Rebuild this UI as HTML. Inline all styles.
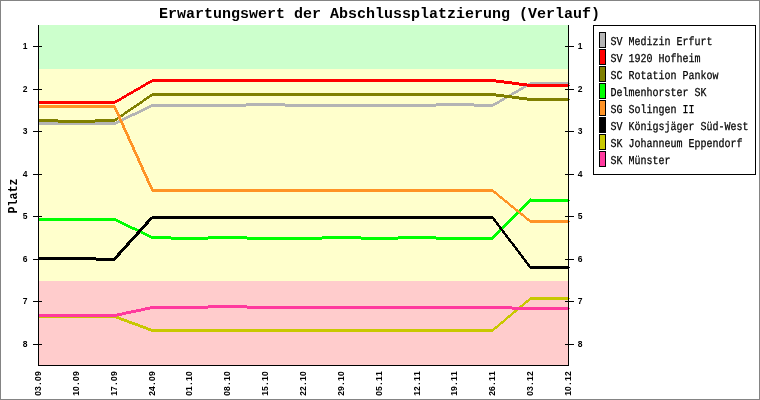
<!DOCTYPE html>
<html lang="de"><head><meta charset="utf-8"><title>Erwartungswert der Abschlussplatzierung (Verlauf)</title>
<style>html,body{margin:0;padding:0;background:#fff}svg{display:block}text{font-family:"Liberation Mono","DejaVu Sans Mono",monospace;fill:#000}.t{font-size:15px;font-weight:bold}.l{font-size:12px;text-rendering:geometricPrecision;stroke:#000;stroke-width:.25px}.a{font-family:"Liberation Sans","DejaVu Sans",sans-serif;font-size:8.5px;font-weight:bold;text-anchor:middle}.y{font-size:13.5px;font-weight:bold}</style></head><body>
<svg width="760" height="400" viewBox="0 0 760 400">
<rect x="0" y="0" width="760" height="400" fill="#fff"/>
<rect x="0.5" y="0.5" width="759" height="399" fill="none" stroke="#848484" shape-rendering="crispEdges"/>
<g shape-rendering="crispEdges">
<rect x="38" y="25" width="531" height="44" fill="#ccffcc"/>
<rect x="38" y="69" width="531" height="212" fill="#ffffcc"/>
<rect x="38" y="281" width="531" height="84" fill="#ffcccc"/>
<polygon fill="#b4b4b4" points="38.00,122.00 77.00,122.00 77.00,125.00 38.00,125.00"/>
<polygon fill="#b4b4b4" points="76.00,122.00 115.00,122.00 115.00,125.00 76.00,125.00"/>
<polygon fill="#b4b4b4" points="114.00,122.24 153.00,103.76 153.00,106.76 114.00,125.24"/>
<polygon fill="#b4b4b4" points="152.00,104.00 190.00,104.00 190.00,107.00 152.00,107.00"/>
<polygon fill="#b4b4b4" points="189.00,104.00 228.00,104.00 228.00,107.00 189.00,107.00"/>
<polygon fill="#b4b4b4" points="227.00,104.01 266.00,102.99 266.00,105.99 227.00,107.01"/>
<polygon fill="#b4b4b4" points="265.00,102.99 304.00,104.01 304.00,107.01 265.00,105.99"/>
<polygon fill="#b4b4b4" points="303.00,104.00 342.00,104.00 342.00,107.00 303.00,107.00"/>
<polygon fill="#b4b4b4" points="341.00,104.00 380.00,104.00 380.00,107.00 341.00,107.00"/>
<polygon fill="#b4b4b4" points="379.00,104.00 418.00,104.00 418.00,107.00 379.00,107.00"/>
<polygon fill="#b4b4b4" points="417.00,104.01 455.00,102.99 455.00,105.99 417.00,107.01"/>
<polygon fill="#b4b4b4" points="454.00,102.99 493.00,104.01 493.00,107.01 454.00,105.99"/>
<polygon fill="#b4b4b4" points="492.00,104.29 531.00,81.71 531.00,84.71 492.00,107.29"/>
<polygon fill="#b4b4b4" points="530.00,82.00 569.00,82.00 569.00,85.00 530.00,85.00"/>
<rect x="569" y="83" width="1" height="1" fill="#b4b4b4"/>
<polygon fill="#ff0000" points="38.00,101.00 77.00,101.00 77.00,104.00 38.00,104.00"/>
<polygon fill="#ff0000" points="76.00,101.00 115.00,101.00 115.00,104.00 76.00,104.00"/>
<polygon fill="#ff0000" points="114.00,101.29 153.00,78.71 153.00,81.71 114.00,104.29"/>
<polygon fill="#ff0000" points="152.00,79.00 190.00,79.00 190.00,82.00 152.00,82.00"/>
<polygon fill="#ff0000" points="189.00,79.00 228.00,79.00 228.00,82.00 189.00,82.00"/>
<polygon fill="#ff0000" points="227.00,79.00 266.00,79.00 266.00,82.00 227.00,82.00"/>
<polygon fill="#ff0000" points="265.00,79.00 304.00,79.00 304.00,82.00 265.00,82.00"/>
<polygon fill="#ff0000" points="303.00,79.00 342.00,79.00 342.00,82.00 303.00,82.00"/>
<polygon fill="#ff0000" points="341.00,79.00 380.00,79.00 380.00,82.00 341.00,82.00"/>
<polygon fill="#ff0000" points="379.00,79.00 418.00,79.00 418.00,82.00 379.00,82.00"/>
<polygon fill="#ff0000" points="417.00,79.00 455.00,79.00 455.00,82.00 417.00,82.00"/>
<polygon fill="#ff0000" points="454.00,79.00 493.00,79.00 493.00,82.00 454.00,82.00"/>
<polygon fill="#ff0000" points="492.00,78.93 531.00,84.07 531.00,87.07 492.00,81.93"/>
<polygon fill="#ff0000" points="530.00,84.00 569.00,84.00 569.00,87.00 530.00,87.00"/>
<rect x="569" y="85" width="1" height="1" fill="#ff0000"/>
<polygon fill="#808000" points="38.00,118.99 77.00,120.01 77.00,123.01 38.00,121.99"/>
<polygon fill="#808000" points="76.00,120.01 115.00,118.99 115.00,121.99 76.00,123.01"/>
<polygon fill="#808000" points="114.00,119.34 153.00,92.66 153.00,95.66 114.00,122.34"/>
<polygon fill="#808000" points="152.00,93.00 190.00,93.00 190.00,96.00 152.00,96.00"/>
<polygon fill="#808000" points="189.00,93.00 228.00,93.00 228.00,96.00 189.00,96.00"/>
<polygon fill="#808000" points="227.00,93.00 266.00,93.00 266.00,96.00 227.00,96.00"/>
<polygon fill="#808000" points="265.00,93.00 304.00,93.00 304.00,96.00 265.00,96.00"/>
<polygon fill="#808000" points="303.00,93.00 342.00,93.00 342.00,96.00 303.00,96.00"/>
<polygon fill="#808000" points="341.00,93.00 380.00,93.00 380.00,96.00 341.00,96.00"/>
<polygon fill="#808000" points="379.00,93.00 418.00,93.00 418.00,96.00 379.00,96.00"/>
<polygon fill="#808000" points="417.00,93.00 455.00,93.00 455.00,96.00 417.00,96.00"/>
<polygon fill="#808000" points="454.00,93.00 493.00,93.00 493.00,96.00 454.00,96.00"/>
<polygon fill="#808000" points="492.00,92.93 531.00,98.07 531.00,101.07 492.00,95.93"/>
<polygon fill="#808000" points="530.00,98.00 569.00,98.00 569.00,101.00 530.00,101.00"/>
<rect x="569" y="99" width="1" height="1" fill="#808000"/>
<polygon fill="#00ff00" points="38.00,218.00 77.00,218.00 77.00,221.00 38.00,221.00"/>
<polygon fill="#00ff00" points="76.00,218.00 115.00,218.00 115.00,221.00 76.00,221.00"/>
<polygon fill="#00ff00" points="114.00,217.76 153.00,236.24 153.00,239.24 114.00,220.76"/>
<polygon fill="#00ff00" points="152.00,235.99 190.00,237.01 190.00,240.01 152.00,238.99"/>
<polygon fill="#00ff00" points="189.00,237.01 228.00,235.99 228.00,238.99 189.00,240.01"/>
<polygon fill="#00ff00" points="227.00,235.99 266.00,237.01 266.00,240.01 227.00,238.99"/>
<polygon fill="#00ff00" points="265.00,237.00 304.00,237.00 304.00,240.00 265.00,240.00"/>
<polygon fill="#00ff00" points="303.00,237.01 342.00,235.99 342.00,238.99 303.00,240.01"/>
<polygon fill="#00ff00" points="341.00,235.99 380.00,237.01 380.00,240.01 341.00,238.99"/>
<polygon fill="#00ff00" points="379.00,237.01 418.00,235.99 418.00,238.99 379.00,240.01"/>
<polygon fill="#00ff00" points="417.00,235.99 455.00,237.01 455.00,240.01 417.00,238.99"/>
<polygon fill="#00ff00" points="454.00,237.00 493.00,237.00 493.00,240.00 454.00,240.00"/>
<polygon fill="#00ff00" points="492.00,236.50 531.00,197.50 531.00,201.50 492.00,240.50"/>
<polygon fill="#00ff00" points="530.00,199.00 569.00,199.00 569.00,202.00 530.00,202.00"/>
<rect x="569" y="200" width="1" height="1" fill="#00ff00"/>
<polygon fill="#ff9326" points="38.00,105.00 77.00,105.00 77.00,108.00 38.00,108.00"/>
<polygon fill="#ff9326" points="76.00,105.00 115.00,105.00 115.00,108.00 76.00,108.00"/>
<polygon fill="#ff9326" points="112.77,106.00 115.77,106.00 154.23,191.00 151.23,191.00"/>
<polygon fill="#ff9326" points="152.00,189.00 190.00,189.00 190.00,192.00 152.00,192.00"/>
<polygon fill="#ff9326" points="189.00,189.00 228.00,189.00 228.00,192.00 189.00,192.00"/>
<polygon fill="#ff9326" points="227.00,189.00 266.00,189.00 266.00,192.00 227.00,192.00"/>
<polygon fill="#ff9326" points="265.00,189.00 304.00,189.00 304.00,192.00 265.00,192.00"/>
<polygon fill="#ff9326" points="303.00,189.00 342.00,189.00 342.00,192.00 303.00,192.00"/>
<polygon fill="#ff9326" points="341.00,189.00 380.00,189.00 380.00,192.00 341.00,192.00"/>
<polygon fill="#ff9326" points="379.00,189.00 418.00,189.00 418.00,192.00 379.00,192.00"/>
<polygon fill="#ff9326" points="417.00,189.00 455.00,189.00 455.00,192.00 417.00,192.00"/>
<polygon fill="#ff9326" points="454.00,189.00 493.00,189.00 493.00,192.00 454.00,192.00"/>
<polygon fill="#ff9326" points="492.00,188.59 531.00,220.41 531.00,223.41 492.00,191.59"/>
<polygon fill="#ff9326" points="530.00,220.00 569.00,220.00 569.00,223.00 530.00,223.00"/>
<rect x="569" y="221" width="1" height="1" fill="#ff9326"/>
<polygon fill="#000000" points="38.00,257.00 77.00,257.00 77.00,260.00 38.00,260.00"/>
<polygon fill="#000000" points="76.00,256.99 115.00,258.01 115.00,261.01 76.00,259.99"/>
<polygon fill="#000000" points="111.55,260.00 115.55,260.00 154.45,217.00 150.45,217.00"/>
<polygon fill="#000000" points="152.00,216.00 190.00,216.00 190.00,219.00 152.00,219.00"/>
<polygon fill="#000000" points="189.00,216.00 228.00,216.00 228.00,219.00 189.00,219.00"/>
<polygon fill="#000000" points="227.00,216.00 266.00,216.00 266.00,219.00 227.00,219.00"/>
<polygon fill="#000000" points="265.00,216.00 304.00,216.00 304.00,219.00 265.00,219.00"/>
<polygon fill="#000000" points="303.00,216.00 342.00,216.00 342.00,219.00 303.00,219.00"/>
<polygon fill="#000000" points="341.00,216.00 380.00,216.00 380.00,219.00 341.00,219.00"/>
<polygon fill="#000000" points="379.00,216.00 418.00,216.00 418.00,219.00 379.00,219.00"/>
<polygon fill="#000000" points="417.00,216.00 455.00,216.00 455.00,219.00 417.00,219.00"/>
<polygon fill="#000000" points="454.00,216.00 493.00,216.00 493.00,219.00 454.00,219.00"/>
<polygon fill="#000000" points="490.62,217.00 493.62,217.00 532.38,268.00 529.38,268.00"/>
<polygon fill="#000000" points="530.00,266.00 569.00,266.00 569.00,269.00 530.00,269.00"/>
<rect x="569" y="267" width="1" height="1" fill="#000000"/>
<polygon fill="#c8c800" points="38.00,315.00 77.00,315.00 77.00,318.00 38.00,318.00"/>
<polygon fill="#c8c800" points="76.00,315.00 115.00,315.00 115.00,318.00 76.00,318.00"/>
<polygon fill="#c8c800" points="114.00,314.82 153.00,329.18 153.00,332.18 114.00,317.82"/>
<polygon fill="#c8c800" points="152.00,329.00 190.00,329.00 190.00,332.00 152.00,332.00"/>
<polygon fill="#c8c800" points="189.00,329.00 228.00,329.00 228.00,332.00 189.00,332.00"/>
<polygon fill="#c8c800" points="227.00,329.00 266.00,329.00 266.00,332.00 227.00,332.00"/>
<polygon fill="#c8c800" points="265.00,329.00 304.00,329.00 304.00,332.00 265.00,332.00"/>
<polygon fill="#c8c800" points="303.00,329.00 342.00,329.00 342.00,332.00 303.00,332.00"/>
<polygon fill="#c8c800" points="341.00,329.00 380.00,329.00 380.00,332.00 341.00,332.00"/>
<polygon fill="#c8c800" points="379.00,329.00 418.00,329.00 418.00,332.00 379.00,332.00"/>
<polygon fill="#c8c800" points="417.00,329.00 455.00,329.00 455.00,332.00 417.00,332.00"/>
<polygon fill="#c8c800" points="454.00,329.00 493.00,329.00 493.00,332.00 454.00,332.00"/>
<polygon fill="#c8c800" points="492.00,329.42 531.00,296.58 531.00,299.58 492.00,332.42"/>
<polygon fill="#c8c800" points="530.00,297.00 569.00,297.00 569.00,300.00 530.00,300.00"/>
<rect x="569" y="298" width="1" height="1" fill="#c8c800"/>
<polygon fill="#ff3a9e" points="38.00,314.00 77.00,314.00 77.00,317.00 38.00,317.00"/>
<polygon fill="#ff3a9e" points="76.00,314.00 115.00,314.00 115.00,317.00 76.00,317.00"/>
<polygon fill="#ff3a9e" points="114.00,314.11 153.00,305.89 153.00,308.89 114.00,317.11"/>
<polygon fill="#ff3a9e" points="152.00,306.00 190.00,306.00 190.00,309.00 152.00,309.00"/>
<polygon fill="#ff3a9e" points="189.00,306.01 228.00,304.99 228.00,307.99 189.00,309.01"/>
<polygon fill="#ff3a9e" points="227.00,304.99 266.00,306.01 266.00,309.01 227.00,307.99"/>
<polygon fill="#ff3a9e" points="265.00,306.00 304.00,306.00 304.00,309.00 265.00,309.00"/>
<polygon fill="#ff3a9e" points="303.00,306.00 342.00,306.00 342.00,309.00 303.00,309.00"/>
<polygon fill="#ff3a9e" points="341.00,306.00 380.00,306.00 380.00,309.00 341.00,309.00"/>
<polygon fill="#ff3a9e" points="379.00,306.00 418.00,306.00 418.00,309.00 379.00,309.00"/>
<polygon fill="#ff3a9e" points="417.00,306.00 455.00,306.00 455.00,309.00 417.00,309.00"/>
<polygon fill="#ff3a9e" points="454.00,306.00 493.00,306.00 493.00,309.00 454.00,309.00"/>
<polygon fill="#ff3a9e" points="492.00,305.99 531.00,307.01 531.00,310.01 492.00,308.99"/>
<polygon fill="#ff3a9e" points="530.00,307.00 569.00,307.00 569.00,310.00 530.00,310.00"/>
<rect x="569" y="308" width="1" height="1" fill="#ff3a9e"/>
<rect x="38" y="25" width="1" height="341" fill="#000"/>
<rect x="568" y="25" width="1" height="341" fill="#000"/>
<rect x="38" y="365" width="531" height="1" fill="#000"/>
<rect x="33" y="46" width="9" height="1" fill="#000"/>
<rect x="565" y="46" width="9" height="1" fill="#000"/>
<rect x="33" y="89" width="9" height="1" fill="#000"/>
<rect x="565" y="89" width="9" height="1" fill="#000"/>
<rect x="33" y="131" width="9" height="1" fill="#000"/>
<rect x="565" y="131" width="9" height="1" fill="#000"/>
<rect x="33" y="174" width="9" height="1" fill="#000"/>
<rect x="565" y="174" width="9" height="1" fill="#000"/>
<rect x="33" y="216" width="9" height="1" fill="#000"/>
<rect x="565" y="216" width="9" height="1" fill="#000"/>
<rect x="33" y="259" width="9" height="1" fill="#000"/>
<rect x="565" y="259" width="9" height="1" fill="#000"/>
<rect x="33" y="301" width="9" height="1" fill="#000"/>
<rect x="565" y="301" width="9" height="1" fill="#000"/>
<rect x="33" y="344" width="9" height="1" fill="#000"/>
<rect x="565" y="344" width="9" height="1" fill="#000"/>
<rect x="593.5" y="25.5" width="162" height="149" fill="#fff" stroke="#000"/>
<rect x="599.5" y="32.5" width="6" height="15" fill="#b4b4b4" stroke="#000"/>
<rect x="599.5" y="49.5" width="6" height="15" fill="#ff0000" stroke="#000"/>
<rect x="599.5" y="66.5" width="6" height="15" fill="#808000" stroke="#000"/>
<rect x="599.5" y="83.5" width="6" height="15" fill="#00ff00" stroke="#000"/>
<rect x="599.5" y="100.5" width="6" height="15" fill="#ff9326" stroke="#000"/>
<rect x="599.5" y="117.5" width="6" height="15" fill="#000000" stroke="#000"/>
<rect x="599.5" y="134.5" width="6" height="15" fill="#c8c800" stroke="#000"/>
<rect x="599.5" y="151.5" width="6" height="15" fill="#ff3a9e" stroke="#000"/>
</g>
<text class="t" x="159" y="18" textLength="441" lengthAdjust="spacingAndGlyphs">Erwartungswert der Abschlussplatzierung (Verlauf)</text>
<text class="l" x="610.5" y="45.0" textLength="102" lengthAdjust="spacingAndGlyphs">SV Medizin Erfurt</text>
<text class="l" x="610.5" y="62.0" textLength="90" lengthAdjust="spacingAndGlyphs">SV 1920 Hofheim</text>
<text class="l" x="610.5" y="79.0" textLength="108" lengthAdjust="spacingAndGlyphs">SC Rotation Pankow</text>
<text class="l" x="610.5" y="96.0" textLength="96" lengthAdjust="spacingAndGlyphs">Delmenhorster SK</text>
<text class="l" x="610.5" y="113.0" textLength="84" lengthAdjust="spacingAndGlyphs">SG Solingen II</text>
<text class="l" x="610.5" y="130.0" textLength="138" lengthAdjust="spacingAndGlyphs">SV Königsjäger Süd-West</text>
<text class="l" x="610.5" y="147.0" textLength="132" lengthAdjust="spacingAndGlyphs">SK Johanneum Eppendorf</text>
<text class="l" x="610.5" y="164.0" textLength="60" lengthAdjust="spacingAndGlyphs">SK Münster</text>
<text class="a" x="25" y="49">1</text>
<text class="a" x="580" y="49">1</text>
<text class="a" x="25" y="92">2</text>
<text class="a" x="580" y="92">2</text>
<text class="a" x="25" y="134">3</text>
<text class="a" x="580" y="134">3</text>
<text class="a" x="25" y="177">4</text>
<text class="a" x="580" y="177">4</text>
<text class="a" x="25" y="219">5</text>
<text class="a" x="580" y="219">5</text>
<text class="a" x="25" y="262">6</text>
<text class="a" x="580" y="262">6</text>
<text class="a" x="25" y="304">7</text>
<text class="a" x="580" y="304">7</text>
<text class="a" x="25" y="347">8</text>
<text class="a" x="580" y="347">8</text>
<text class="a" transform="translate(41,395.5) rotate(-90)" x="2 7 12 17 22" y="0">03.09</text>
<text class="a" transform="translate(79,395.5) rotate(-90)" x="2 7 12 17 22" y="0">10.09</text>
<text class="a" transform="translate(117,395.5) rotate(-90)" x="2 7 12 17 22" y="0">17.09</text>
<text class="a" transform="translate(155,395.5) rotate(-90)" x="2 7 12 17 22" y="0">24.09</text>
<text class="a" transform="translate(192,395.5) rotate(-90)" x="2 7 12 17 22" y="0">01.10</text>
<text class="a" transform="translate(230,395.5) rotate(-90)" x="2 7 12 17 22" y="0">08.10</text>
<text class="a" transform="translate(268,395.5) rotate(-90)" x="2 7 12 17 22" y="0">15.10</text>
<text class="a" transform="translate(306,395.5) rotate(-90)" x="2 7 12 17 22" y="0">22.10</text>
<text class="a" transform="translate(344,395.5) rotate(-90)" x="2 7 12 17 22" y="0">29.10</text>
<text class="a" transform="translate(382,395.5) rotate(-90)" x="2 7 12 17 22" y="0">05.11</text>
<text class="a" transform="translate(420,395.5) rotate(-90)" x="2 7 12 17 22" y="0">12.11</text>
<text class="a" transform="translate(457,395.5) rotate(-90)" x="2 7 12 17 22" y="0">19.11</text>
<text class="a" transform="translate(495,395.5) rotate(-90)" x="2 7 12 17 22" y="0">26.11</text>
<text class="a" transform="translate(533,395.5) rotate(-90)" x="2 7 12 17 22" y="0">03.12</text>
<text class="a" transform="translate(571,395.5) rotate(-90)" x="2 7 12 17 22" y="0">10.12</text>
<text class="y" transform="translate(16.5,213.5) rotate(-90)" x="0" y="0" textLength="35" lengthAdjust="spacingAndGlyphs">Platz</text>
</svg></body></html>
